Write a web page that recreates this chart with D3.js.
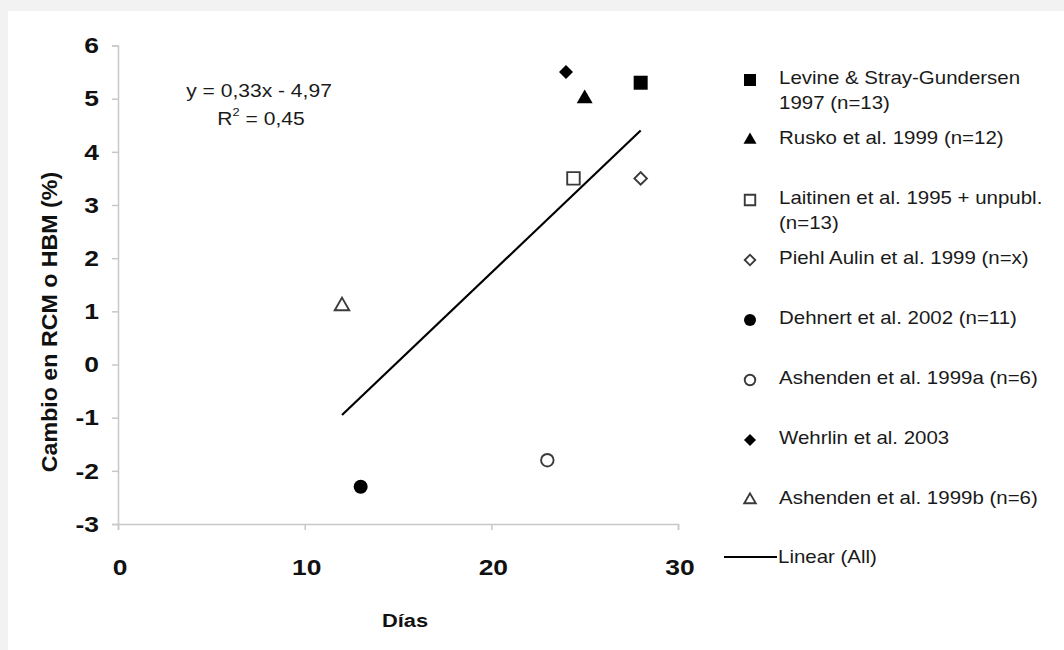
<!DOCTYPE html>
<html>
<head>
<meta charset="utf-8">
<script src="https://cdn.jsdelivr.net/npm/d3@7"></script>
<style>
  html, body { margin: 0; padding: 0; background: #f2f2f2; }
  svg { display: block; }
  text { font-family: Arial, "Liberation Sans", sans-serif; }
</style>
</head>
<body>
<script>
// ---- data ----
const studies = [
  ['Levine & Stray-Gundersen', '1997 (n=13)'],
  ['Rusko et al. 1999 (n=12)'],
  ['Laitinen et al. 1995 + unpubl.', '(n=13)'],
  ['Piehl Aulin et al. 1999 (n=x)'],
  ['Dehnert et al. 2002 (n=11)'],
  ['Ashenden et al. 1999a (n=6)'],
  ['Wehrlin et al. 2003'],
  ['Ashenden et al. 1999b (n=6)'],
]
const days = [28, 25, 24.4, 28, 13, 23, 24, 12]
const change = [5.3, 5.0, 3.5, 3.5, -2.3, -1.8, 5.5, 1.1]
const shapes = ['square', 'triangle', 'square', 'diamond', 'circle', 'circle', 'diamond', 'triangle']
const filled = [true, true, false, false, true, false, true, false]

const trendDays = [12, 28]
const trendChange = [-0.95, 4.4]

const xTicks = [0, 10, 20, 30]
const yTicks = [-3, -2, -1, 0, 1, 2, 3, 4, 5, 6]

const equation = ['y = 0,33x - 4,97', 'R', '2', ' = 0,45']

// ---- layout ----
const W = 1064
const H = 650
const STRETCH = 1.17

const svg = d3.select('body').append('svg')
  .attr('width', W)
  .attr('height', H)

svg.append('rect')
  .attr('x', 8).attr('y', 11)
  .attr('width', W - 8).attr('height', H - 11)
  .attr('fill', '#fff')

const x = d3.scaleLinear().domain([0, 30]).range([118, 678])
const y = d3.scaleLinear().domain([-3, 6]).range([524, 45.5])

// stretched text: the source glyphs are wider than Arial
const addText = (g, str, px, py, opts = {}) => g.append('text')
  .attr('transform', `translate(${px},${py}) scale(${opts.sx || STRETCH},1)`)
  .attr('text-anchor', opts.anchor || 'start')
  .attr('dominant-baseline', 'central')
  .attr('font-size', opts.size || 17.5)
  .attr('font-weight', opts.weight || 'normal')
  .attr('fill', opts.fill || '#1a1a1a')
  .text(str)

// ---- axes ----
const axisColor = '#c8c8c8'

svg.append('g')
  .attr('transform', `translate(0,${y(-3)})`)
  .call(d3.axisBottom(x).tickValues(xTicks).tickSize(6).tickFormat(''))
  .call(g => g.selectAll('path, line').attr('stroke', axisColor).attr('stroke-width', 1.5))

svg.append('g')
  .attr('transform', `translate(${x(0)},0)`)
  .call(d3.axisLeft(y).tickValues(yTicks).tickSize(6).tickFormat(''))
  .call(g => g.selectAll('path, line').attr('stroke', axisColor).attr('stroke-width', 1.5))

const labels = svg.append('g')
xTicks.forEach(t => addText(labels, t, x(t) + 2, 567, { anchor: 'middle', size: 22, weight: 'bold', fill: '#111', sx: 1.2 }))
yTicks.forEach(t => addText(labels, t, 99, y(t), { anchor: 'end', size: 22, weight: 'bold', fill: '#111', sx: 1.2 }))

addText(labels, 'Días', 405, 620, { anchor: 'middle', size: 19, weight: 'bold', fill: '#111', sx: 1.15 })

labels.append('text')
  .attr('transform', `translate(50,322) rotate(-90) scale(1.08,1)`)
  .attr('text-anchor', 'middle')
  .attr('dominant-baseline', 'central')
  .attr('font-size', 21.5)
  .attr('font-weight', 'bold')
  .attr('fill', '#111')
  .text('Cambio en RCM o HBM (%)')

// ---- regression label ----
addText(svg, equation[0], 259, 91, { anchor: 'middle', size: 18 })
const r2 = svg.append('text')
  .attr('transform', `translate(261,119) scale(${STRETCH},1)`)
  .attr('text-anchor', 'middle')
  .attr('dominant-baseline', 'central')
  .attr('font-size', 18)
  .attr('fill', '#1a1a1a')
r2.append('tspan').text(equation[1])
r2.append('tspan').attr('font-size', 11).attr('dy', -7).text(equation[2])
r2.append('tspan').attr('dy', 7).text(equation[3])

// ---- markers ----
const symbolPath = (shape, size) => {
  if (shape === 'square') return d3.symbol(d3.symbolSquare, size * size)()
  if (shape === 'diamond') return d3.symbol(d3.symbolSquare, size * size / 2)()
  if (shape === 'circle') return d3.symbol(d3.symbolCircle, Math.PI * size * size / 4)()
  return d3.symbol(d3.symbolTriangle, Math.sqrt(3) / 4 * size * size)()
}

const drawMarker = (sel, i, size) => sel
  .attr('d', symbolPath(shapes[i], filled[i] ? size : size - 1.5))
  .attr('transform', shapes[i] === 'diamond' ? 'rotate(45)' : null)
  .attr('fill', filled[i] ? '#000' : '#fff')
  .attr('stroke', filled[i] ? 'none' : '#3a3a3a')
  .attr('stroke-width', 1.9)

// trend line
svg.append('path')
  .datum(trendDays.map((d, i) => [d, trendChange[i]]))
  .attr('d', d3.line().x(d => x(d[0])).y(d => y(d[1])))
  .attr('stroke', '#000')
  .attr('stroke-width', 2.2)
  .attr('fill', 'none')

const points = svg.append('g')
days.forEach((d, i) => {
  const g = points.append('g')
    .attr('transform', `translate(${x(d)},${y(change[i])})`)
  g.append('path').call(drawMarker, i, shapes[i] === 'triangle' ? 16 : 14)
})

// ---- legend ----
const legend = svg.append('g')
const rowY = i => 78 + i * 60

studies.forEach((lines, i) => {
  legend.append('g')
    .attr('transform', `translate(750,${rowY(i) + 2})`)
    .append('path').call(drawMarker, i, shapes[i] === 'triangle' ? 13 : 12)
  lines.forEach((line, j) => addText(legend, line, 779, rowY(i) + j * 25))
})

legend.append('line')
  .attr('x1', 724).attr('x2', 777)
  .attr('y1', 557).attr('y2', 557)
  .attr('stroke', '#000')
  .attr('stroke-width', 2)
addText(legend, 'Linear (All)', 778, 557)
</script>
</body>
</html>
